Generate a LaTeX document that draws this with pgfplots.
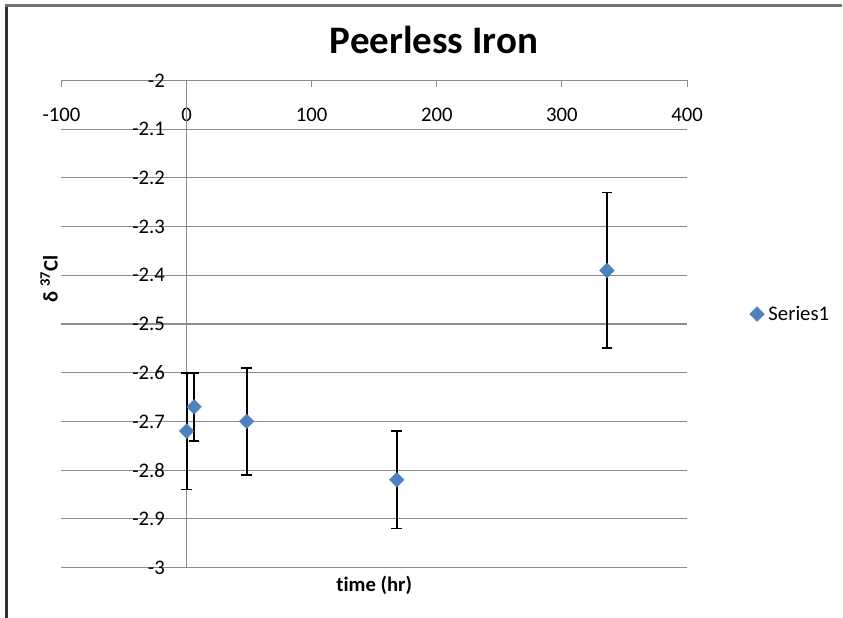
\documentclass[border=0pt]{standalone}
\usepackage{pgfplots}
\pgfplotsset{compat=1.18}
\usepackage{fontspec}
\setmainfont{Carlito}[Ligatures=NoCommon]
\definecolor{ser}{HTML}{4F81BD}
\definecolor{gridc}{HTML}{8C8C8C}
\begin{document}
\begin{tikzpicture}
\path[use as bounding box] (0pt,0pt) rectangle (843pt,618pt);
\draw[color=black!80, line width=2.5pt] (6.5pt,0pt) -- (6.5pt,612.5pt);
\draw[color=black!55, line width=2.5pt] (5.25pt,612.5pt) -- (842pt,612.5pt);
\begin{axis}[
 at={(61.5pt,50.5pt)}, anchor=south west,
 scale only axis, width=625.5pt, height=487pt,
 xmin=-100, xmax=400, ymin=-3, ymax=-2,
 xtick={-100,0,100,200,300,400},
 ytick={-3,-2.9,-2.8,-2.7,-2.6,-2.5,-2.4,-2.3,-2.2,-2.1,-2},
 hide obscured x ticks=false,
 axis line style={draw=none},
 xtick pos=upper, xticklabel pos=upper, tick align=inside,
 major tick length=7pt, xtick style={gridc, line width=1pt}, ytick style={draw=none},
 ymajorgrids, major grid style={gridc, line width=1.1pt},
 extra x ticks={0}, extra x tick labels={}, extra x tick style={grid=major, major tick length=0pt},
 ticklabel style={font=\fontsize{20.7}{24}\selectfont, inner sep=0pt},
 /pgf/number format/assume math mode=true,
 xticklabel style={anchor=center, yshift=-34pt},
 yticklabel style={anchor=east, xshift=103.5pt},
 title={Peerless Iron},
 title style={font=\fontsize{39}{45}\selectfont\bfseries, at={(0.5955,1.0421)}, anchor=base},
 xlabel={time (hr)},
 xlabel style={font=\fontsize{20.7}{24}\selectfont\bfseries, at={(0.5,-0.0497)}, anchor=base},
 ylabel={δ \textsuperscript{37}Cl},
 ylabel style={font=\fontsize{20.7}{24}\selectfont\bfseries, at={(-0.0064,0.593)}, anchor=base},
 legend style={at={(1.1,0.5205)}, anchor=west, draw=none, fill=none, font=\fontsize{20.7}{24}\selectfont, inner sep=0pt},
]
\addplot[only marks, mark=square*, mark options={rotate=45, fill=ser, draw=ser}, mark size=5.2pt,
  error bars/.cd, y dir=both, y explicit,
  error bar style={black, line width=1.8pt},
  error mark options={rotate=90, black, mark size=5.3pt, line width=1.8pt}]
  table[x=x, y=y, y error=e] {
x y e
0 -2.72 0.12
6 -2.67 0.07
48 -2.70 0.11
168 -2.82 0.10
336 -2.39 0.16
};
\addlegendentry{\hspace{2pt}Series1}
\end{axis}
\end{tikzpicture}
\end{document}
